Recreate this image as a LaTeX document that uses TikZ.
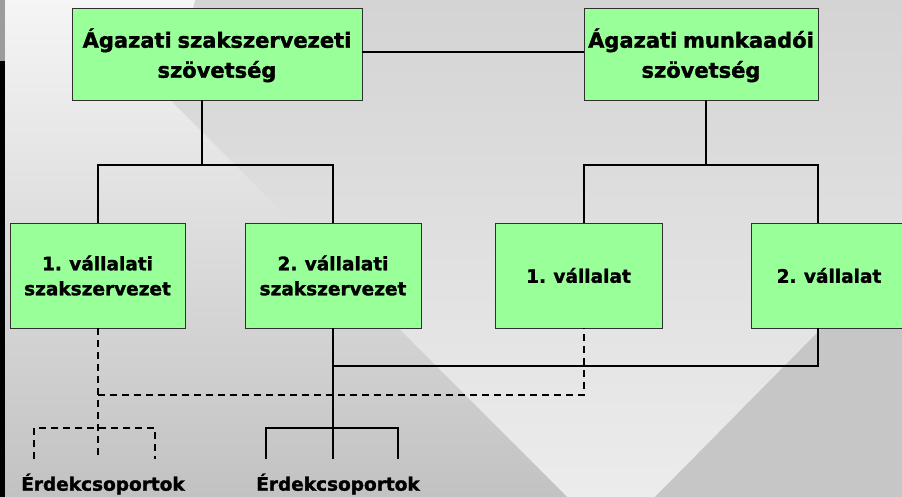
\documentclass[tikz,border=0pt]{standalone}
\usepackage{fontspec}
\setmainfont{DejaVu Sans}[BoldFeatures={FakeBold=1.6}, WordSpace=0.8]
\definecolor{boxgreen}{HTML}{99FF99}
\definecolor{boxedge}{HTML}{303030}
\begin{document}
\begin{tikzpicture}[x=1pt,y=-1pt,
  box/.style={draw=boxedge, line width=0.9pt, fill=boxgreen, inner sep=0pt, align=center, font=\bfseries},
  topbox/.style={box, minimum height=92pt, font=\bfseries\fontsize{21}{30}\selectfont},
  lowbox/.style={box, minimum height=105pt, font=\bfseries\fontsize{18.5}{25}\selectfont},
  conn/.style={line width=1.8pt, black},
  dconn/.style={line width=1.7pt, black, dash pattern=on 7pt off 5pt},
  lbl/.style={inner sep=0pt, font=\bfseries\fontsize{18.5}{22}\selectfont}]
% background
\useasboundingbox (0,0) rectangle (902,497);
\fill[fill={rgb,255:red,216;green,216;blue,216}] (0,0) rectangle (902,497);
\shade[top color={rgb,255:red,212;green,212;blue,212}, bottom color={rgb,255:red,236;green,236;blue,236}]
  (195,0) -- (902,0) -- (902,247) -- (655,497) -- (567,497) -- (170,100) -- cycle;
\shade[top color={rgb,255:red,245;green,245;blue,245}, middle color={rgb,255:red,210;green,210;blue,210}, bottom color={rgb,255:red,194;green,194;blue,194}]
  (0,0) -- (195,0) -- (170,100) -- (567,497) -- (0,497) -- cycle;
\fill[fill={rgb,255:red,198;green,198;blue,198}] (902,247) -- (902,497) -- (655,497) -- cycle;
\fill[fill={rgb,255:red,156;green,156;blue,156}] (0,0) rectangle (4.5,61);
\fill[black] (0,61) rectangle (4.5,497);
% nodes
\node[topbox, minimum width=290pt] (t1) at (217,54) {\rule{0pt}{22pt}Ágazati szakszervezeti\\szövetség};
\node[topbox, minimum width=234pt] (t2) at (701,54) {\rule{0pt}{22pt}Ágazati munkaadói\\szövetség};
\node[lowbox, minimum width=175pt] (a) at (97.5,275.5) {1. vállalati\\szakszervezet};
\node[lowbox, minimum width=176pt] (b) at (333,275.5) {2. vállalati\\szakszervezet};
\node[lowbox, minimum width=167pt] (c) at (578.5,275.5) {1. vállalat};
\node[lowbox, minimum width=156pt] (d) at (829,275.5) {2. vállalat};
\node[lbl] (g1) at (103,484) {Érdekcsoportok};
\node[lbl] (g2) at (338,484) {Érdekcsoportok};
% junction coordinates
\coordinate (j1) at (202,165);
\coordinate (j2) at (706,165);
\coordinate (ja) at (98,165);
\coordinate (jb) at (333,165);
\coordinate (jc) at (584,165);
\coordinate (jd) at (818,165);
\coordinate (sB) at (333,366);
\coordinate (sD) at (818,366);
\coordinate (dA) at (98,395);
\coordinate (dC) at (584,395);
\coordinate (gA) at (98,428);
\coordinate (gAl) at (34,428);
\coordinate (gAr) at (155,428);
\coordinate (gB) at (333,428);
\coordinate (gBl) at (266,428);
\coordinate (gBr) at (398,428);
% top connections
\draw[conn, line width=2.2pt] (t1.east |- 0,52) -- (t2.west |- 0,52);
\draw[conn] (t1.south -| j1) -- (j1);
\draw[conn] (t2.south -| j2) -- (j2);
\draw[conn] (a.north -| ja) |- (jb) -- (b.north -| jb);
\draw[conn] (c.north -| jc) |- (jd) -- (d.north -| jd);
% lower solid connections
\draw[conn] (b.south -| sB) -- (gB) -- (gB |- 0,459);
\draw[conn] (sB) -- (sD) -- (d.south -| sD);
\draw[conn] (gBl |- 0,459) -- (gBl) -- (gBr) -- (gBr |- 0,459);
% dashed connections
\draw[dconn] (a.south -| gA) -- (gA) -- (gA |- 0,459);
\draw[dconn] (dA) -- (dC) -- (c.south -| dC);
\draw[dconn] (gAl |- 0,459) -- (gAl) -- (gAr) -- (gAr |- 0,459);
\end{tikzpicture}
\end{document}
